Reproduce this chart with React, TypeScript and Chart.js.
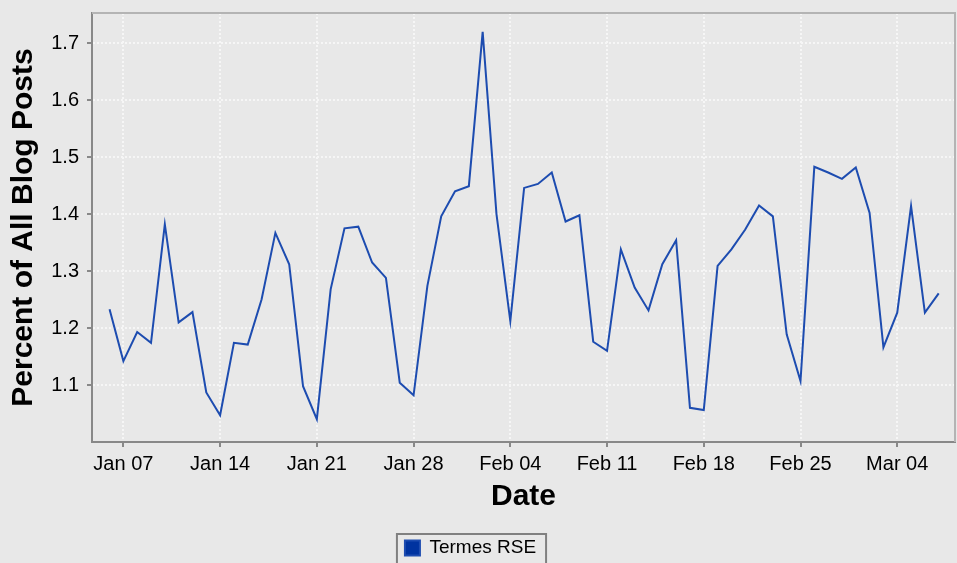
import React, { useEffect, useRef } from "react";
import { Chart, registerables } from "chart.js";

Chart.register(...registerables);

// ---- data ----
const seriesName = "Termes RSE";
const firstDate = "2007-01-06"; // first daily observation
const values = [
  1.233, 1.142, 1.193, 1.174, 1.382, 1.21, 1.228, 1.087, 1.047, 1.174, 1.171,
  1.25, 1.367, 1.312, 1.098, 1.04, 1.268, 1.375, 1.378, 1.315, 1.288, 1.104,
  1.082, 1.274, 1.396, 1.44, 1.449, 1.72, 1.4, 1.212, 1.446, 1.453, 1.473,
  1.387, 1.398, 1.176, 1.16, 1.338, 1.271, 1.231, 1.312, 1.354, 1.06, 1.056,
  1.309, 1.338, 1.373, 1.415, 1.396, 1.189, 1.107, 1.483, 1.473, 1.462, 1.482,
  1.402, 1.166, 1.227, 1.414, 1.227, 1.261,
];
const tickDates = [
  "2007-01-07", "2007-01-14", "2007-01-21", "2007-01-28", "2007-02-04",
  "2007-02-11", "2007-02-18", "2007-02-25", "2007-03-04",
];
const tickLabels = [
  "Jan 07", "Jan 14", "Jan 21", "Jan 28", "Feb 04",
  "Feb 11", "Feb 18", "Feb 25", "Mar 04",
];
const yTicks = [1.1, 1.2, 1.3, 1.4, 1.5, 1.6, 1.7];
const xAxisTitle = "Date";
const yAxisTitle = "Percent of All Blog Posts";

// ---- helpers ----
const DAY = 86400000;
const origin = Date.parse(tickDates[0] + "T00:00:00Z");
const dayOf = (iso: string) => (Date.parse(iso + "T00:00:00Z") - origin) / DAY;
const start = dayOf(firstDate);
const points = values.map((v, i) => ({ x: start + i, y: v }));
const tickDays = tickDates.map(dayOf);

const FONT = "'Liberation Sans', Arial, sans-serif";
const BG = "#e8e8e8";

const framePlugin = {
  id: "frame",
  beforeDraw(chart: any) {
    const { ctx, width, height } = chart;
    ctx.save();
    ctx.fillStyle = BG;
    ctx.fillRect(0, 0, width, height);
    ctx.restore();
  },
  afterLayout(chart: any) {
    const lg = chart.legend;
    if (lg) {
      lg.left -= 7;
      lg.right -= 7;
    }
  },
  afterDraw(chart: any) {
    const { ctx, chartArea } = chart;
    ctx.save();
    ctx.strokeStyle = "#b4b4b4";
    ctx.lineWidth = 2;
    ctx.beginPath();
    ctx.moveTo(chartArea.left, chartArea.top);
    ctx.lineTo(chartArea.right, chartArea.top);
    ctx.lineTo(chartArea.right, chartArea.bottom);
    ctx.stroke();
    const hb = chart.legend && chart.legend.legendHitBoxes && chart.legend.legendHitBoxes[0];
    if (hb) {
      ctx.strokeStyle = "#808080";
      ctx.lineWidth = 2;
      ctx.strokeRect(hb.left - 8, hb.top - 4.5, hb.width + 18, 80);
    }
    ctx.restore();
  },
};

const zeroPad = (scale: any) => {
  scale.paddingTop = 0;
  scale.paddingBottom = 0;
  scale.paddingLeft = 0;
  scale.paddingRight = 0;
};

export default function App() {
  const ref = useRef<HTMLCanvasElement | null>(null);

  useEffect(() => {
    document.body.style.margin = "0";
    document.body.style.background = BG;
    const canvas = ref.current;
    if (!canvas) return;
    const chart = new Chart(canvas, {
      type: "line",
      data: {
        datasets: [
          {
            label: seriesName,
            data: points,
            borderColor: "#1d4cb0",
            backgroundColor: "#0033a0",
            borderWidth: 2,
            pointRadius: 0,
            tension: 0,
            fill: false,
          },
        ],
      },
      options: {
        animation: false,
        responsive: false,
        devicePixelRatio: 1,
        layout: { padding: { top: 13, right: 2, left: 0, bottom: -4.5 } },
        plugins: {
          tooltip: { enabled: false },
          legend: {
            position: "bottom",
            labels: {
              boxWidth: 15,
              boxHeight: 15,
              padding: 10,
              color: "#000",
              font: { family: FONT, size: 19 },
            },
          },
        },
        scales: {
          x: {
            type: "linear",
            min: -2.27,
            max: 60.18,
            afterBuildTicks: (scale: any) => {
              scale.ticks = tickDays.map((v) => ({ value: v }));
            },
            afterFit: (scale: any) => {
              scale.height = 86.5;
              zeroPad(scale);
            },
            ticks: {
              autoSkip: false,
              maxRotation: 0,
              padding: 5,
              color: "#000",
              font: { family: FONT, size: 20 },
              callback: (v: any) => {
                const i = tickDays.indexOf(Number(v));
                return i >= 0 ? tickLabels[i] : "";
              },
            },
            grid: {
              color: "#f6f6f6",
              lineWidth: 2,
              tickLength: 5,
              tickColor: "#888",
              tickWidth: 2,
              tickBorderDash: [],
            },
            border: { color: "#888", width: 2, dash: [2, 2] },
            title: {
              display: true,
              text: xAxisTitle,
              color: "#000",
              font: { family: FONT, size: 30, weight: "bold" },
              padding: { top: 0, bottom: 14 },
            },
          },
          y: {
            type: "linear",
            min: 1.0,
            max: 1.753,
            afterBuildTicks: (scale: any) => {
              scale.ticks = yTicks.map((v) => ({ value: v }));
            },
            afterFit: (scale: any) => {
              scale.width = 92;
              zeroPad(scale);
            },
            ticks: {
              padding: 8,
              color: "#000",
              font: { family: FONT, size: 20 },
              callback: (v: any) => Number(v).toFixed(1),
            },
            grid: {
              color: "#f6f6f6",
              lineWidth: 2,
              tickLength: 5,
              tickColor: "#888",
              tickWidth: 2,
              tickBorderDash: [],
            },
            border: { color: "#888", width: 2, dash: [2, 2] },
            title: {
              display: true,
              text: yAxisTitle,
              color: "#000",
              font: { family: FONT, size: 30, weight: "bold" },
              padding: { top: 6, bottom: 0 },
            },
          },
        },
      },
      plugins: [framePlugin],
    } as any);
    return () => chart.destroy();
  }, []);

  return (
    <div style={{ width: 957, height: 563, position: "relative" }}>
      <canvas ref={ref} width={957} height={563} style={{ display: "block" }} />
    </div>
  );
}
